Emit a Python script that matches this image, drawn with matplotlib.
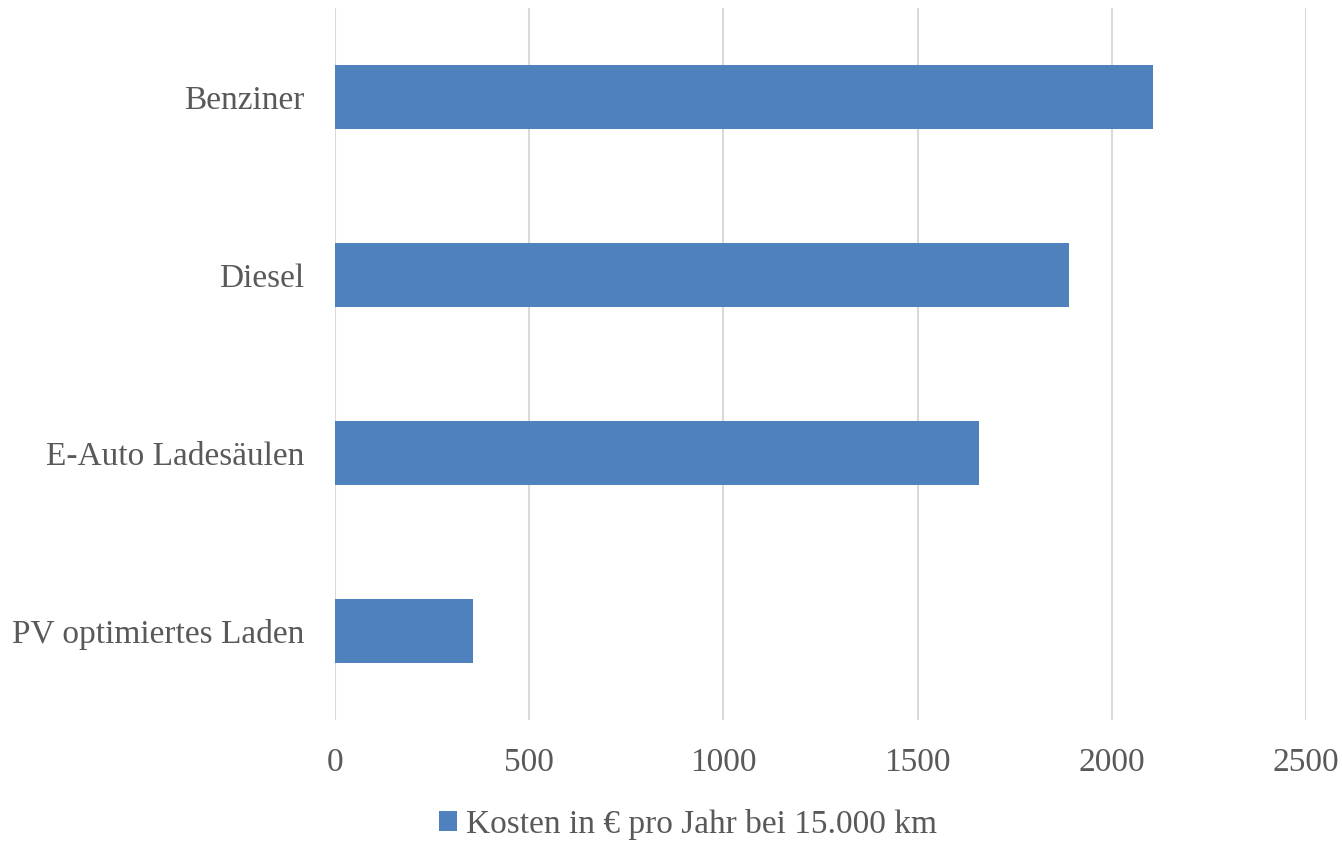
import matplotlib
matplotlib.use("Agg")
import matplotlib.pyplot as plt
from matplotlib.patches import Patch

categories = ["Benziner", "Diesel", "E-Auto Ladesäulen", "PV optimiertes Laden"]
values = [2105, 1889, 1658, 356]
series_name = "Kosten in € pro Jahr bei 15.000 km"
xticks = [0, 500, 1000, 1500, 2000, 2500]

bar_color = "#4F81BD"
text_color = "#595959"
grid_color = "#D9D9D9"

plt.rcParams['font.family'] = ['Liberation Serif', 'DejaVu Serif']

fig = plt.figure(figsize=(13.42, 8.41), dpi=100)
ax = fig.add_axes([335/1342, 1 - 720/841, (1306-335)/1342, (720-8)/841])

y = list(range(len(categories)))
ax.barh(y, values, height=0.36, color=bar_color, zorder=3, label=series_name)
ax.set_ylim(len(categories) - 0.5, -0.5)
ax.set_xlim(0, 2500)
ax.set_xticks(xticks)
ax.set_xticklabels([str(t) for t in xticks])
ax.set_yticks(y)
ax.set_yticklabels(categories)
ax.grid(axis="x", color=grid_color, linewidth=1.5, zorder=0)
for s in ax.spines.values():
    s.set_visible(False)
ax.tick_params(axis="both", length=0, colors=text_color, labelsize=24)
ax.tick_params(axis="x", pad=20)
ax.tick_params(axis="y", pad=22)

handle = Patch(facecolor=bar_color, edgecolor="none")
fig.legend([handle], [series_name], loc="center", bbox_to_anchor=(688/1342, 1 - 824/841),
           frameon=False, fontsize=24, labelcolor=text_color, handlelength=0.55,
           handleheight=0.55, handletextpad=0.25)

fig.savefig("out.png", dpi=100)
